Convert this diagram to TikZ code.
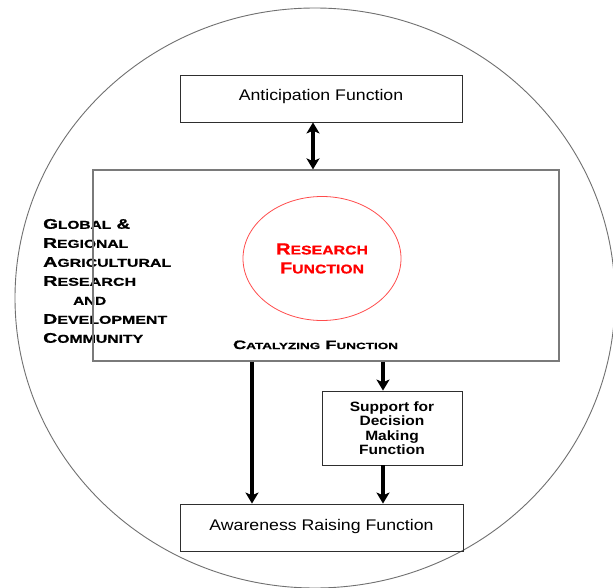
\documentclass[tikz,border=0pt]{standalone}
\usepackage{fontspec}
\setmainfont{Liberation Sans}
\newfontfamily\boxfont{Liberation Sans}[FakeStretch=1.15]
\newfontfamily\capfont{Liberation Sans}[BoldFeatures={FakeBold=0.8}]
\usetikzlibrary{shapes.geometric,arrows.meta}
\newcommand\fitw[2]{\resizebox{#1}{\height}{#2}}
\newcommand\Lb[1]{{\fontsize{14}{14}\selectfont #1}}
\newcommand\Ls[1]{{\fontsize{11.4}{11.4}\selectfont #1}}
\newcommand\Rb[1]{{\fontsize{16}{16}\selectfont #1}}
\newcommand\Rs[1]{{\fontsize{12.6}{12.6}\selectfont #1}}
\newcommand\Cb[1]{{\fontsize{12.2}{12.2}\selectfont #1}}
\newcommand\Cs[1]{{\fontsize{9}{9}\selectfont #1}}
\definecolor{rimgray}{HTML}{707070}
\definecolor{boxgray}{HTML}{7A7A7A}
\definecolor{darkline}{HTML}{2E2E2E}
\definecolor{resred}{HTML}{FF0000}
\begin{document}
\begin{tikzpicture}[x=1pt,y=-1pt,
  fbox/.style={draw=darkline, line width=0.9pt, inner sep=0pt},
  arr/.style={line width=3.1pt, -{Stealth[length=11pt,width=13pt,inset=2.8pt]}},
  dbl/.style={line width=3.1pt, {Stealth[length=11pt,width=13pt,inset=2.8pt]}-{Stealth[length=11pt,width=13pt,inset=2.8pt]}}]
\useasboundingbox (0,0) rectangle (613,588);
\fill[white] (0,0) rectangle (613,588);
% outer circle
\node[ellipse, draw=rimgray, line width=0.9pt, minimum width=600, minimum height=580, inner sep=0pt] (world) at (315,298) {};
% community text
\node[anchor=north west, align=left, inner sep=0pt, font=\capfont\bfseries\fontsize{10}{19}\selectfont] (comm) at (43,218.8) {%
\fitw{87pt}{\Lb{G}\Ls{LOBAL}\Lb{\ \&}}\\
\fitw{85pt}{\Lb{R}\Ls{EGIONAL}}\\
\fitw{128pt}{\Lb{A}\Ls{GRICULTURAL}}\\
\fitw{93pt}{\Lb{R}\Ls{ESEARCH}}\\
\hspace*{30pt}\fitw{33pt}{\Ls{AND}}\\
\fitw{124pt}{\Lb{D}\Ls{EVELOPMENT}}\\
\fitw{100pt}{\Lb{C}\Ls{OMMUNITY}}};
% catalyzing box
\node[draw=boxgray, line width=1.2pt, minimum width=466, minimum height=191, inner sep=0pt] (cat) at (326,265.5) {};
\node[anchor=base, inner sep=0pt, font=\capfont\bfseries] (catlbl) at (315.5,349) {\fitw{165pt}{\Cb{C}\Cs{ATALYZING}\Cb{\ F}\Cs{UNCTION}}};
% research function
\node[ellipse, draw=resred!70, line width=0.8pt, minimum width=158, minimum height=124, inner sep=0pt, text=resred, align=center, font=\capfont\bfseries\fontsize{10}{19}\selectfont] (res) at (322,258.5) {%
\fitw{92pt}{\Rb{R}\Rs{ESEARCH}}\\
\fitw{84pt}{\Rb{F}\Rs{UNCTION}}};
% boxes
\node[fbox, minimum width=282, minimum height=47, text height=11pt, text depth=6pt, font=\boxfont\fontsize{15.4}{18}\selectfont] (ant) at (321,98.5) {Anticipation Function};
\node[fbox, minimum width=283, minimum height=47, text height=11pt, text depth=6pt, font=\boxfont\fontsize{15.4}{18}\selectfont] (aware) at (321.5,527.5) {Awareness Raising Function};
\node[fbox, minimum width=140, minimum height=74, align=center, font=\boxfont\bfseries\fontsize{13.5}{14.5}\selectfont] (sup) at (392,428) {Support for\\Decision\\Making\\Function};
% connectors
\coordinate (xl) at (252,0);
\coordinate (xr) at (383,0);
\draw[dbl] ([xshift=-8pt]ant.south) -- ([xshift=-8pt]ant.south |- cat.north);
\draw[arr] (cat.south -| xl) -- (aware.north -| xl);
\draw[arr] (cat.south -| xr) -- (sup.north -| xr);
\draw[arr] (sup.south -| xr) -- (aware.north -| xr);
\end{tikzpicture}
\end{document}
